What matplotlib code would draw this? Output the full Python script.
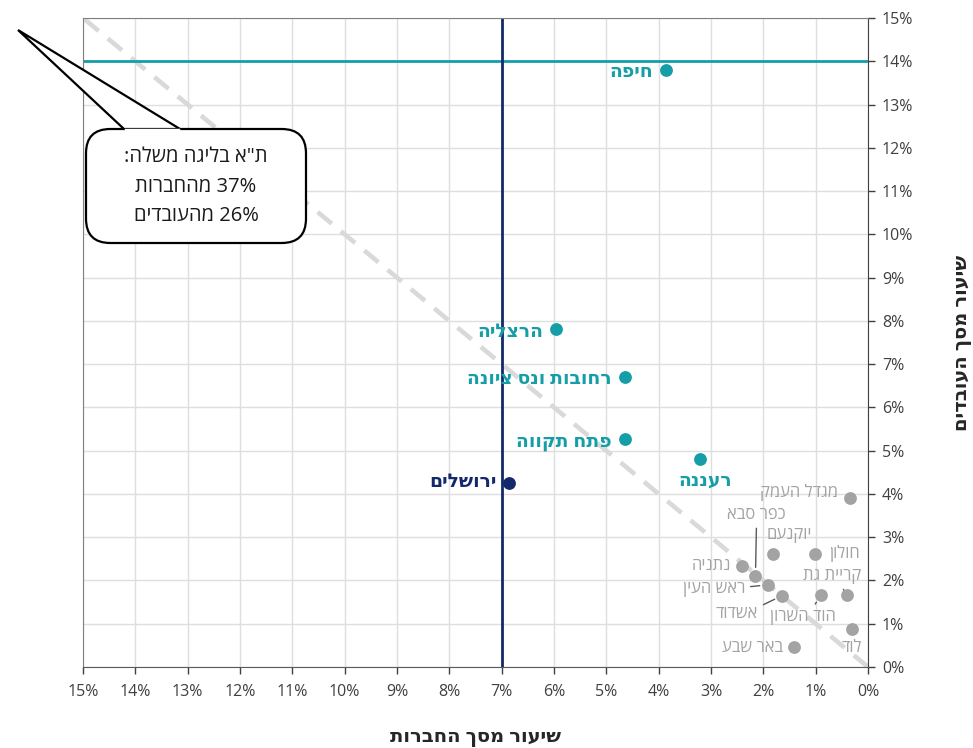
import matplotlib
matplotlib.use('Agg')
import matplotlib.pyplot as plt
from matplotlib.patches import FancyBboxPatch, Polygon

plt.rcParams['font.family'] = ['Open Sans', 'DejaVu Sans']

def heb(s):
    # matplotlib has no bidi support: flip hebrew text to its visual order
    return s[::-1]

# share of companies (x) and share of employees (y), in percent
highlight_names = ['חיפה', 'הרצליה', 'רחובות ונס ציונה', 'פתח תקווה', 'רעננה']
highlight_x = [3.86, 5.96, 4.65, 4.65, 3.21]
highlight_y = [13.80, 7.81, 6.70, 5.26, 4.80]

jerusalem_x = 6.86
jerusalem_y = 4.25

other_names = ['מגדל העמק', 'יוקנעם', 'חולון', 'נתניה', 'כפר סבא', 'ראש העין',
               'אשדוד', 'הוד השרון', 'קריית גת', 'לוד', 'באר שבע']
other_x = [0.34, 1.81, 1.01, 2.40, 2.15, 1.91, 1.64, 0.90, 0.40, 0.31, 1.41]
other_y = [3.91, 2.61, 2.61, 2.34, 2.11, 1.90, 1.65, 1.66, 1.66, 0.87, 0.46]

ticks = list(range(0, 16))
tlv_line = 14   # horizontal line, employees
jlm_line = 7    # vertical line, companies

teal = '#159ea8'
navy = '#13296b'
grey = '#a3a3a3'

fig = plt.figure(figsize=(9.73, 7.48), dpi=100)
ax = fig.add_axes([83/973, 1-667/748, (868-83)/973, (667-18)/748])

ax.set_xlim(15, 0)
ax.set_ylim(0, 15)
ax.set_xticks(ticks)
ax.set_yticks(ticks)
ax.set_xticklabels(['%d%%' % t for t in ticks])
ax.set_yticklabels(['%d%%' % t for t in ticks])
ax.yaxis.tick_right()
ax.yaxis.set_label_position('right')
ax.tick_params(axis='both', labelsize=11.5, colors='#404040', length=5, width=1)
ax.tick_params(axis='x', pad=7)
ax.tick_params(axis='y', pad=5)
ax.grid(True, color='#dedede', lw=1)
ax.set_axisbelow(True)
for s in ax.spines.values():
    s.set_color('#808080')
ax.spines['right'].set_color('#404040')
ax.spines['bottom'].set_color('#595959')

# diagonal y = x
ax.plot(ticks, ticks, color='#d9d9d9', lw=3.3, dashes=(4, 2.6), zorder=1)
ax.axhline(tlv_line, color=teal, lw=2, zorder=2)
ax.axvline(jlm_line, color=navy, lw=2, zorder=2)

ax.scatter(other_x, other_y, s=85, color=grey, zorder=4, linewidths=0)
ax.scatter(highlight_x, highlight_y, s=85, color=teal, zorder=4, linewidths=0)
ax.scatter([jerusalem_x], [jerusalem_y], s=85, color=navy, zorder=4, linewidths=0)

px = 0.72  # points per pixel
hl_off = [(-13, -2, 'right'), (-13, -3, 'right'), (-13, -2, 'right'),
          (-13, -2, 'right'), (5, -21, 'center')]
for n, x, y, (dx, dy, ha) in zip(highlight_names, highlight_x, highlight_y, hl_off):
    ax.annotate(heb(n), (x, y), xytext=(dx*px, dy*px), textcoords='offset points',
                ha=ha, va='center', fontsize=13.5, fontweight='bold', color=teal)
ax.annotate(heb('ירושלים'), (jerusalem_x, jerusalem_y), xytext=(-12*px, 1*px),
            textcoords='offset points', ha='right', va='center',
            fontsize=13.5, fontweight='bold', color=navy)

# offsets in pixels, alignment, leader line relpos (None = no leader)
ot_off = [(-12, 5, 'right', None), (16, 19, 'center', None), (14, 1, 'left', None),
          (-11, 0, 'right', None), (1, 61, 'center', (0.5, 0.0)),
          (-23, -4, 'right', (1.0, 0.6)), (-24, -18, 'right', (1.0, 0.9)),
          (-18, -22, 'center', (0.63, 0.95)), (-15, 19, 'center', (0.63, 0.05)),
          (0, -19, 'center', None), (-11, -1, 'right', None)]
for n, x, y, (dx, dy, ha, rp) in zip(other_names, other_x, other_y, ot_off):
    arrow = None
    if rp is not None:
        arrow = dict(arrowstyle='-', color='#595959', lw=1, relpos=rp,
                     shrinkA=2, shrinkB=6)
    ax.annotate(heb(n), (x, y), xytext=(dx*px, dy*px), textcoords='offset points',
                ha=ha, va='center', fontsize=12, color=grey, arrowprops=arrow)

ax.set_xlabel(heb('שיעור מסך החברות'), fontsize=14, fontweight='bold',
              color='#262626', labelpad=20)
ax.set_ylabel(heb('שיעור מסך העובדים'), fontsize=14, fontweight='bold',
              color='#262626', labelpad=28, rotation=90)

# callout box for Tel Aviv
W, H = 973.0, 748.0
box = FancyBboxPatch((86/W, 1-243/H), (306-86)/W, (243-129)/H,
                     boxstyle='round,pad=0,rounding_size=0.025',
                     transform=fig.transFigure, facecolor='white',
                     edgecolor='black', lw=1.6, zorder=10, mutation_aspect=W/H)
fig.add_artist(box)
tri = Polygon([(18/W, 1-30/H), (124/W, 1-129/H), (180/W, 1-129/H)], closed=True,
              transform=fig.transFigure, facecolor='white', edgecolor='black',
              lw=1.6, zorder=11)
fig.add_artist(tri)
fig.add_artist(plt.Line2D([126/W, 178/W], [1-130.2/H, 1-130.2/H],
                          transform=fig.transFigure, color='white', lw=2.5, zorder=12))
lines = [':' + heb('ת"א בליגה משלה'), heb('מהחברות') + ' 37%', heb('מהעובדים') + ' 26%']
for i, t in enumerate(lines):
    fig.text(196/W, 1-(157+29.5*i)/H, t, ha='center', va='center', fontsize=14.5,
             color='#1a1a1a', zorder=13)

fig.savefig('out.png', dpi=100)
